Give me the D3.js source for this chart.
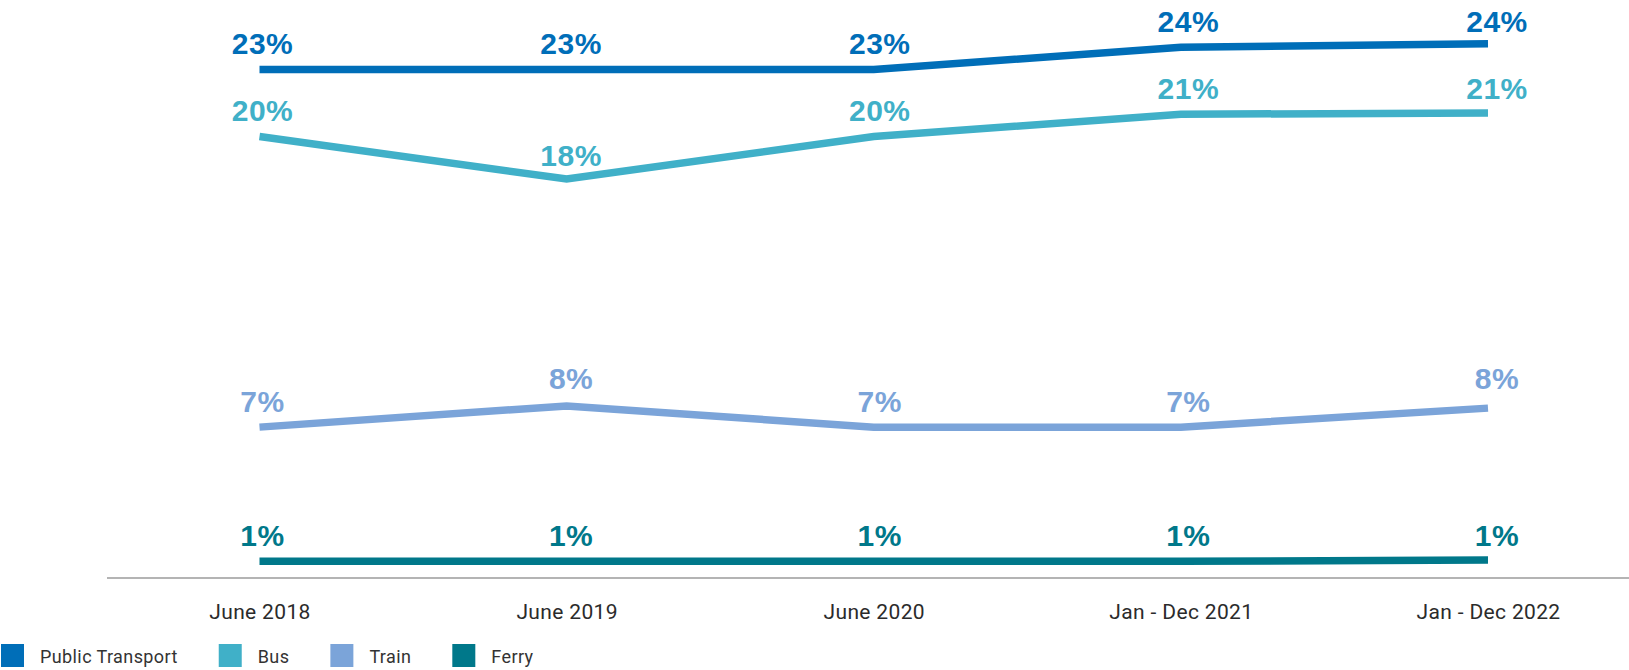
<!DOCTYPE html>
<html>
<head>
<meta charset="utf-8">
<script src="https://cdn.jsdelivr.net/npm/d3@7/dist/d3.min.js"></script>
<style>
  html, body { margin: 0; padding: 0; background: #ffffff; }
  svg { display: block; }
</style>
</head>
<body>
<svg id="chart" width="1629" height="670"></svg>
<script>
// Survey periods along the horizontal axis
const periods = ["June 2018", "June 2019", "June 2020", "Jan - Dec 2021", "Jan - Dec 2022"];

// Share of trips by mode (%), one value per period
const publicTransport = [23.0, 23.0, 23.0, 24.0, 24.15];
const bus             = [20.0, 18.1, 20.0, 21.0, 21.05];
const train           = [7.0, 7.95, 7.0, 7.0, 7.85];
const ferry           = [1.0, 1.0, 1.0, 1.0, 1.05];

const seriesNames  = ["Public Transport", "Bus", "Train", "Ferry"];
const seriesValues = [publicTransport, bus, train, ferry];
const seriesColors = ["#006eb8", "#40b0c8", "#7ba4d9", "#00788a"];

const W = 1629, H = 670;
const svg = d3.select("#chart");

const x = d3.scalePoint().domain(periods).range([259.5, 1488]);
const y = d3.scaleLinear().domain([0.25, 25]).range([578, 24.8]);

// Baseline
svg.append("line")
  .attr("x1", 107).attr("x2", W)
  .attr("y1", y(0.25)).attr("y2", y(0.25))
  .attr("stroke", "#b4b4b4")
  .attr("stroke-width", 2);

// Category labels under the baseline
const xAxis = d3.axisBottom(x).tickSize(0).tickPadding(0);
const axisG = svg.append("g")
  .attr("transform", `translate(0,${y(0.25)})`)
  .call(xAxis);
axisG.select(".domain").remove();
axisG.selectAll("text")
  .attr("dy", null)
  .attr("y", 41)
  .attr("font-family", "Roboto, 'Liberation Sans', sans-serif")
  .attr("font-size", 21)
  .attr("letter-spacing", "0.35px")
  .attr("fill", "#2b2b2b");

const line = d3.line()
  .x((d, i) => x(periods[i]))
  .y(d => y(d));

const series = seriesNames.map((name, k) => ({
  name, values: seriesValues[k], color: seriesColors[k]
}));

const g = svg.append("g");

// Lines
g.selectAll("path.series")
  .data(series)
  .join("path")
  .attr("class", "series")
  .attr("d", s => line(s.values))
  .attr("fill", "none")
  .attr("stroke", s => s.color)
  .attr("stroke-width", 7.5)
  .attr("stroke-linecap", "butt")
  .attr("stroke-linejoin", "miter");

// Value labels above each point
const fmt = v => d3.format(".0f")(v) + "%";
series.forEach(s => {
  g.selectAll(null)
    .data(s.values)
    .join("text")
    .attr("x", (d, i) => x(periods[i]) + 3 + i * 1.5)
    .attr("y", d => y(Math.round(d)) - 15.5)
    .attr("text-anchor", "middle")
    .attr("font-family", "'Liberation Sans', Arial, sans-serif")
    .attr("font-weight", "bold")
    .attr("font-size", 30)
    .attr("letter-spacing", "0.5px")
    .attr("fill", s.color)
    .text(fmt);
});

// Legend
const legend = svg.append("g").attr("transform", "translate(1,644)");
let lx = 0;
series.forEach(s => {
  const item = legend.append("g").attr("transform", `translate(${lx},0)`);
  item.append("rect")
    .attr("width", 23).attr("height", 23)
    .attr("fill", s.color);
  const t = item.append("text")
    .attr("x", 39)
    .attr("y", 18.7)
    .attr("font-family", "Roboto, 'Liberation Sans', sans-serif")
    .attr("font-size", 18)
    .attr("letter-spacing", "0.4px")
    .attr("fill", "#333333")
    .text(s.name);
  lx += 39 + t.node().getComputedTextLength() + 41;
});
</script>
</body>
</html>
